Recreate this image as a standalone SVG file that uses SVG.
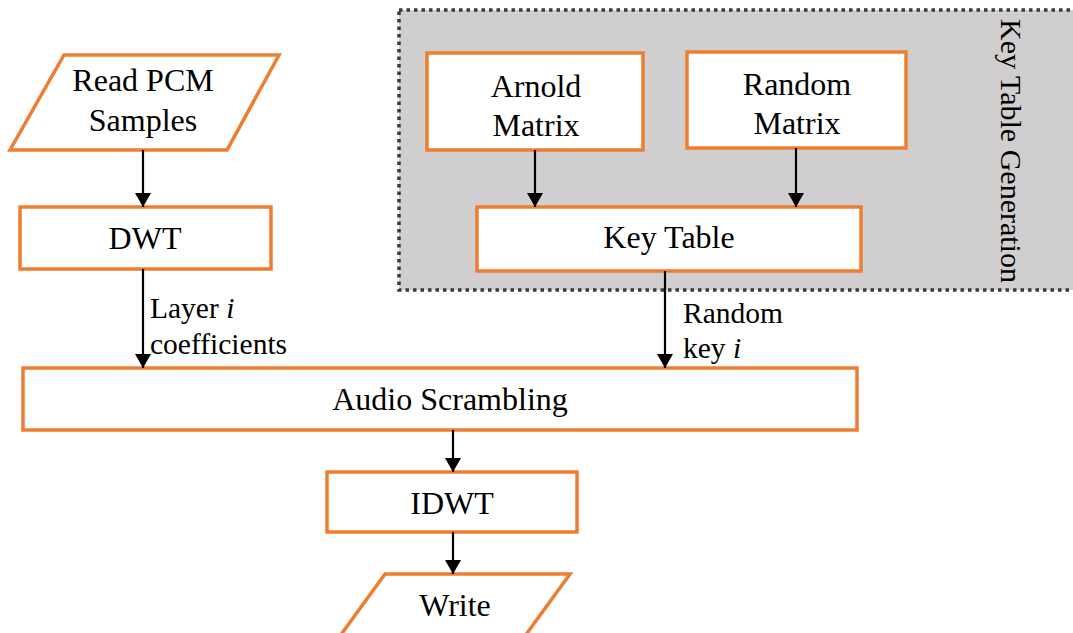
<svg xmlns="http://www.w3.org/2000/svg" width="1073" height="633" viewBox="0 0 1073 633">
<defs>
<style>
.box{fill:#fff;stroke:#ED7D31;stroke-width:3.5}
.t{font-family:"Liberation Serif","Times New Roman",serif;font-size:32px;fill:#000;text-anchor:middle}
.l{font-family:"Liberation Serif","Times New Roman",serif;font-size:29.5px;fill:#000}
.c{stroke:#000;stroke-width:2.2;fill:none;marker-end:url(#ah)}
</style>
<marker id="ah" viewBox="0 0 14 16" refX="14" refY="8" markerWidth="15" markerHeight="16" markerUnits="userSpaceOnUse" orient="auto">
<path d="M0,0 L14,8 L0,16 Z" fill="#000"/>
</marker>
</defs>
<rect width="1073" height="633" fill="#fff"/>
<g id="keygen">
<rect x="399" y="10" width="690" height="280" fill="#D0CECE" stroke="#3a3a3a" stroke-width="3.5" stroke-dasharray="3.5 4"/>
<text class="t" transform="translate(1001,151) rotate(90)" style="font-size:30px">Key Table Generation</text>
</g>
<g id="read">
<polygon class="box" points="64,55 279,55 227,150 10,150"/>
<text class="t" x="143" y="91">Read PCM</text>
<text class="t" x="143" y="131">Samples</text>
</g>
<g id="dwt">
<rect class="box" x="20" y="207" width="251" height="62"/>
<text class="t" x="145" y="249">DWT</text>
</g>
<g id="arnold">
<rect class="box" x="427" y="53" width="216" height="97"/>
<text class="t" x="536" y="97">Arnold</text>
<text class="t" x="536" y="136">Matrix</text>
</g>
<g id="random">
<rect class="box" x="687" y="52" width="219" height="96"/>
<text class="t" x="797" y="95">Random</text>
<text class="t" x="797" y="134">Matrix</text>
</g>
<g id="keytable">
<rect class="box" x="477" y="207" width="384" height="64"/>
<text class="t" x="669" y="248">Key Table</text>
</g>
<g id="scramble">
<rect class="box" x="23" y="368" width="834" height="62"/>
<text class="t" x="450" y="410">Audio Scrambling</text>
</g>
<g id="idwt">
<rect class="box" x="327" y="472" width="250" height="60"/>
<text class="t" x="452" y="514">IDWT</text>
</g>
<g id="write">
<polygon class="box" points="385,574 570,574 525,636 340,636"/>
<text class="t" x="455" y="616">Write</text>
</g>
<g id="connectors">
<line class="c" x1="143" y1="150" x2="143" y2="207"/>
<line class="c" x1="143" y1="269" x2="143" y2="368"/>
<line class="c" x1="535" y1="150" x2="535" y2="207"/>
<line class="c" x1="796" y1="148" x2="796" y2="207"/>
<line class="c" x1="665" y1="271" x2="665" y2="368"/>
<line class="c" x1="453" y1="430" x2="453" y2="472"/>
<line class="c" x1="453" y1="532" x2="453" y2="574"/>
<text class="l" x="150" y="318">Layer <tspan font-style="italic">i</tspan></text>
<text class="l" x="150" y="354">coefficients</text>
<text class="l" x="683" y="323">Random</text>
<text class="l" x="683" y="358">key <tspan font-style="italic">i</tspan></text>
</g>
</svg>
